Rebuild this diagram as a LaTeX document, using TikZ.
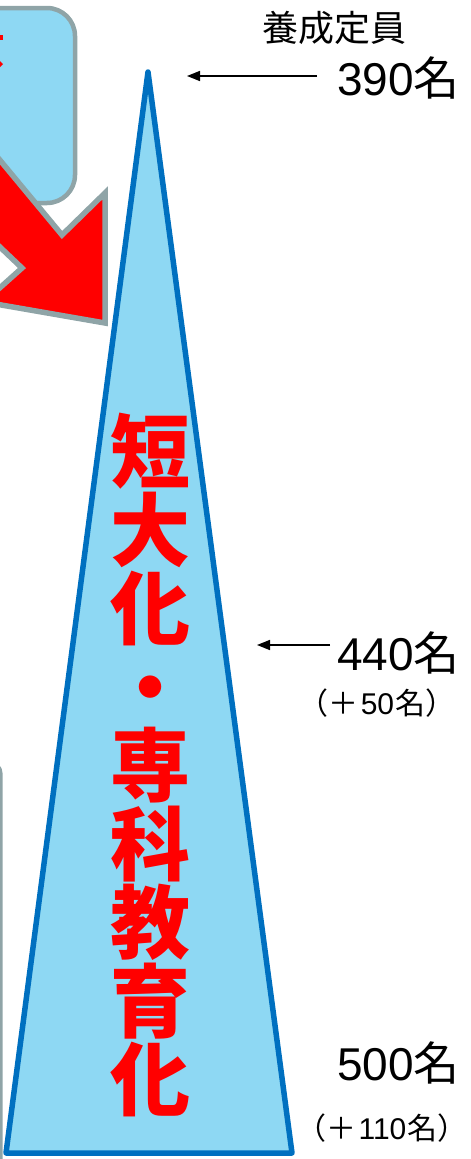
\documentclass[tikz,border=0pt]{standalone}
\usepackage{fontspec}
\setmainfont{Liberation Sans}
\newfontfamily\cjk{Noto Sans CJK JP}
\usetikzlibrary{arrows.meta}
\definecolor{lblue}{RGB}{142,216,243}
\definecolor{tblue}{RGB}{0,112,192}
\definecolor{ggray}{RGB}{143,164,167}
\newcommand\vtfont{\cjk\bfseries\fontsize{80}{78.5}\selectfont\lineskiplimit=-100pt\relax}
\newcommand\smcjk[1]{{\cjk #1}}
\tikzset{
  larrow/.style={-{Triangle[length=13pt,width=10pt]}, line width=1.6pt, black},
  bignum/.style={anchor=base west, inner sep=0pt, font=\fontsize{46}{46}\selectfont},
  smallnum/.style={inner sep=0pt, font=\fontsize{30}{30}\selectfont},
  graybox/.style={draw=ggray, line width=4.5pt, fill=lblue, rounded corners=28pt}
}
\begin{document}
\begin{tikzpicture}[x=1pt,y=-1pt]
\useasboundingbox (0,0) rectangle (471,1159);
\clip (0,0) rectangle (471,1159);
% lower-left box (mostly off the page)
\draw[ggray, line width=3pt, fill=white, rounded corners=10pt] (-200,763) rectangle (1,1300);
% upper-left box
\draw[graybox] (-150,8) rectangle (75,203);
\fill[red] (0,35) rectangle (3,40);
\fill[red] (0,61) -- (3,64) -- (0,67) -- cycle;
% red arrow
\draw[ggray, line width=5.5pt, fill=red, line join=miter]
  (-40,112) -- (62,235) -- (105,193) -- (105,323) -- (-16,302) -- (22,268) -- (-40,209) -- cycle;
% triangle
\draw[tblue, line width=5.5pt, fill=lblue, line join=round]
  (148,72) -- (292,1153) -- (6,1153) -- cycle;
% vertical red text
\node[text=red, align=center, inner sep=0pt, font=\vtfont]
  (vt) at (150,765) {短\\大\\化\\・\\専\\科\\教\\育\\化};
% labels
\node[inner sep=0pt, font=\cjk\fontsize{36}{36}\selectfont] (title) at (334,28) {養成定員};
\node[bignum] (n390) at (337,95) {390{\cjk 名}};
\coordinate (t1) at (187,76);
\draw[larrow] ([xshift=-20pt]n390.west |- t1) -- (t1);
\node[bignum] (n440) at (337,670) {440{\cjk 名}};
\coordinate (t2) at (257,645);
\draw[larrow] ([xshift=-7pt]n440.west |- t2) -- (t2);
\node[smallnum] (d50) at (377,703) {\smcjk{（＋}\hspace{2pt}50\hspace{1pt}\smcjk{名）}};
\node[bignum] (n500) at (337,1080) {500{\cjk 名}};
\node[smallnum] (d110) at (382,1128) {\smcjk{（＋}\hspace{2pt}110\hspace{1pt}\smcjk{名）}};
\end{tikzpicture}
\end{document}
